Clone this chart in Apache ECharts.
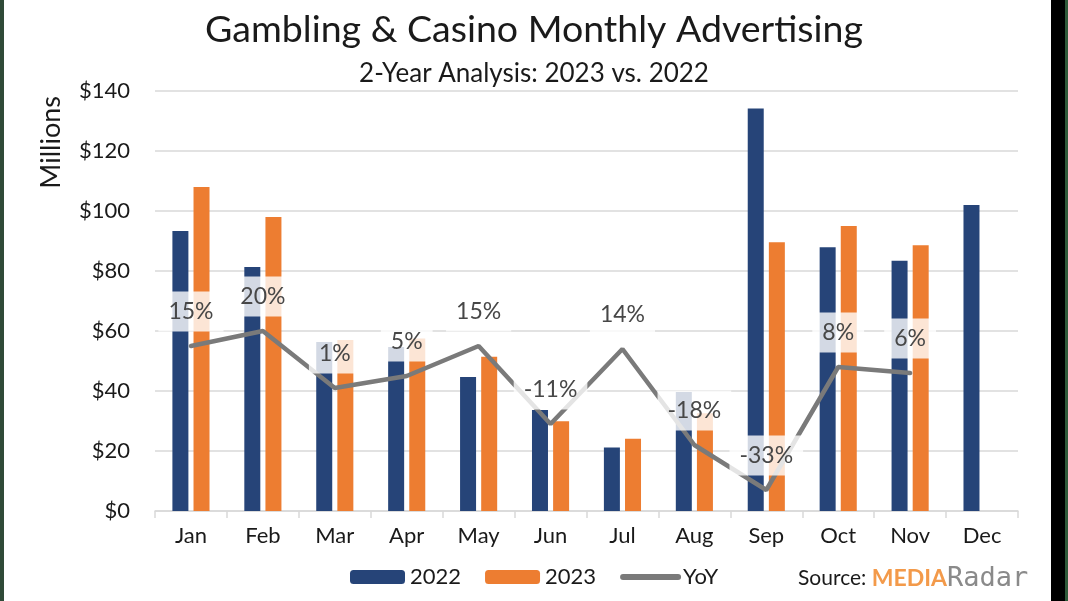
<!DOCTYPE html>
<html>
<head>
<meta charset="utf-8">
<script src="https://cdn.jsdelivr.net/npm/echarts@6/dist/echarts.min.js"></script>
<style>
html,body{margin:0;padding:0;background:#fff;}
#chart{width:1068px;height:601px;}
</style>
</head>
<body>
<div id="chart"></div>
<script>
const months = ['Jan','Feb','Mar','Apr','May','Jun','Jul','Aug','Sep','Oct','Nov','Dec'];
const ad2022 = [93.3, 81.3, 56.3, 54.7, 44.7, 33.7, 21.2, 39.7, 134.2, 87.9, 83.4, 102.0];
const ad2023 = [108.0, 98.0, 57.0, 57.5, 51.4, 29.9, 24.1, 32.6, 89.6, 95.0, 88.6, null];
const yoy = [15, 20, 1, 5, 15, -11, 14, -18, -33, 8, 6, null];
const yTicks = [0, 20, 40, 60, 80, 100, 120, 140];

const FONT = 'Lato, "Open Sans", sans-serif';
const chart = echarts.init(document.getElementById('chart'));
chart.setOption({
  backgroundColor: '#ffffff',
  animation: false,
  textStyle: { fontFamily: FONT },
  title: [
    { text: 'Gambling & Casino Monthly Advertising', left: 'center', top: 6,
      textStyle: { fontSize: 37.5, fontWeight: 'normal', color: '#1a1a1a', fontFamily: FONT } },
    { text: '2-Year Analysis: 2023 vs. 2022', left: 'center', top: 56,
      textStyle: { fontSize: 26, fontWeight: 'normal', color: '#1a1a1a', fontFamily: FONT } }
  ],
  grid: { left: 155, right: 50, top: 91, bottom: 90 },
  legend: {
    bottom: 8, left: 345,
    itemWidth: 55, itemHeight: 14, itemGap: 24,
    textStyle: { fontSize: 22, color: '#1a1a1a', fontFamily: FONT },
    data: ['2022', '2023', { name: 'YoY', itemStyle: { opacity: 0 }, lineStyle: { width: 6, color: '#7a7a7a', cap: 'round' } }]
  },
  xAxis: {
    type: 'category', data: months,
    axisLine: { lineStyle: { color: '#d9d9d9', width: 1.5 } },
    axisTick: { show: true, length: 7, lineStyle: { color: '#d9d9d9', width: 1.5 } },
    axisLabel: { fontSize: 22, color: '#1a1a1a', margin: 14, fontFamily: FONT }
  },
  yAxis: [
    { type: 'value', min: 0, max: 140, interval: 20,
      axisLine: { show: false }, axisTick: { show: false },
      splitLine: { lineStyle: { color: '#d9d9d9', width: 1.5 } },
      axisLabel: { fontSize: 22, color: '#1a1a1a', margin: 25, fontFamily: FONT,
        formatter: v => yTicks.indexOf(v) >= 0 ? '$' + v : '' } },
    { type: 'value', min: -40, max: 100, show: false, splitLine: { show: false } }
  ],
  series: [
    { name: '2022', type: 'bar', data: ad2022, barWidth: 16, barGap: '32%',
      itemStyle: { color: '#264478' } },
    { name: '2023', type: 'bar', data: ad2023, barWidth: 16,
      itemStyle: { color: '#ed7d31' } },
    { name: 'YoY', type: 'line', yAxisIndex: 1, data: yoy,
      symbol: 'circle', symbolSize: 1, showSymbol: true,
      lineStyle: { color: '#7a7a7a', width: 4.5, cap: 'round' }, itemStyle: { color: '#7a7a7a' },
      z: 5,
      label: { show: true, position: 'top', distance: 14,
        formatter: p => p.value + '%',
        fontSize: 23, color: '#474747', fontFamily: FONT,
        backgroundColor: 'rgba(255,255,255,0.8)', padding: [9, 10, 8, 10] } }
  ],
  graphic: [
    { type: 'text', left: 38, top: 96, rotation: Math.PI / 2,
      style: { text: 'Millions', font: '27px ' + FONT, fill: '#1a1a1a' } },
    { type: 'text', left: 798, top: 565,
      style: { text: '{s|Source: }{m|MEDIA}{r|Radar}',
        rich: {
          s: { fontSize: 21, fill: '#1a1a1a', fontFamily: FONT },
          m: { fontSize: 23, fill: '#f39a4a', fontWeight: 'bold', fontFamily: FONT },
          r: { fontSize: 27, fill: '#8a8a8a', fontFamily: 'DejaVu Sans Mono' }
        } } },
    { type: 'rect', shape: { x: 0, y: 0, width: 4, height: 601 }, style: { fill: '#2f4a38' } },
    { type: 'rect', shape: { x: 1051, y: 0, width: 17, height: 601 }, style: { fill: '#000000' } },
    { type: 'rect', shape: { x: 1065, y: 0, width: 3, height: 601 }, style: { fill: '#2f5a3a' } }
  ]
});
</script>
</body>
</html>
